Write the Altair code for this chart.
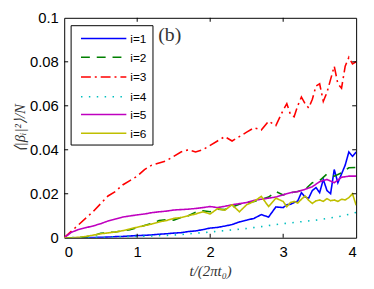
import altair as alt
import pandas as pd

# ---------------- data ----------------
series_names = ["i=1", "i=2", "i=3", "i=4", "i=5", "i=6"]
series_colors = ["#0000ff", "#008000", "#ff0000", "#00bfbf", "#bf00bf", "#bfbf00"]
series_dashes = [[1, 0], [9, 7], [10, 4, 2, 4], [1.5, 6.5], [1, 0], [1, 0]]

t_coarse = [round(0.1 * k, 2) for k in range(41)]
t_fine = [round(0.1 * k, 2) for k in range(30)] + [round(3.0 + 0.05 * k, 2) for k in range(21)]
t_cyan = [0.0, 0.5, 1.0, 1.5, 2.0, 2.5, 3.0, 3.5, 3.8, 4.0]

v1 = [0, 0, 0, 0, 0.0001, 0.0002, 0.0003, 0.0005, 0.0006, 0.0008,
      0.0010, 0.0011, 0.0013, 0.0016, 0.0018, 0.0021, 0.0023, 0.0028, 0.0031, 0.0037,
      0.0044, 0.0047, 0.0053, 0.0060, 0.0072, 0.0080, 0.0088, 0.0105, 0.0094, 0.0140,
      0.0137, 0.0150, 0.0152, 0.0160, 0.0167, 0.0205, 0.0185, 0.0180, 0.0215, 0.0228,
      0.0205, 0.0265, 0.0215, 0.0200, 0.0310, 0.0250, 0.0290, 0.0330, 0.0390, 0.0370, 0.0390]

v2 = [0, 0, 0.0001, 0.0004, 0.0010, 0.0020, 0.0024, 0.0026, 0.0032, 0.0036,
      0.0046, 0.0056, 0.0065, 0.0078, 0.0082, 0.0080, 0.0092, 0.0100, 0.0116, 0.0123,
      0.0118, 0.0130, 0.0128, 0.0140, 0.0152, 0.0160, 0.0165, 0.0175, 0.0185, 0.0210,
      0.0195, 0.0205, 0.0210, 0.0220, 0.0250, 0.0260, 0.0290, 0.0280, 0.0295, 0.0318, 0.0320]

v3 = [0, 0.003, 0.006, 0.009, 0.012, 0.0155, 0.019, 0.021, 0.024, 0.026,
      0.028, 0.031, 0.033, 0.034, 0.035, 0.037, 0.039, 0.040, 0.039, 0.040,
      0.042, 0.044, 0.046, 0.044, 0.046, 0.048, 0.050, 0.049, 0.053, 0.051,
      0.058, 0.061, 0.056, 0.055, 0.060, 0.064, 0.061, 0.059, 0.063, 0.069,
      0.070, 0.062, 0.066, 0.072, 0.078, 0.070, 0.068, 0.078, 0.082, 0.079, 0.080]

v4 = [0, 0.0002, 0.0006, 0.0012, 0.0026, 0.0042, 0.0064, 0.0082, 0.0098, 0.0115]

v5 = [0, 0.0025, 0.0038, 0.0046, 0.0054, 0.0064, 0.0076, 0.0085, 0.0094, 0.0099,
      0.0104, 0.0108, 0.0114, 0.0118, 0.0121, 0.0126, 0.0128, 0.0130, 0.0133, 0.0137,
      0.0142, 0.0137, 0.0143, 0.0150, 0.0155, 0.0160, 0.0170, 0.0175, 0.0180, 0.0185,
      0.0195, 0.0205, 0.0210, 0.0220, 0.0232, 0.0255, 0.0265, 0.0250, 0.0275, 0.0280, 0.0280]

v6 = [0, 0, 0.0002, 0.0006, 0.0012, 0.0018, 0.0022, 0.0026, 0.0032, 0.0040,
      0.0048, 0.0055, 0.0062, 0.0072, 0.0078, 0.0088, 0.0092, 0.0100, 0.0108, 0.0118,
      0.0108, 0.0132, 0.0125, 0.0150, 0.0118, 0.0150, 0.0165, 0.0188, 0.0142, 0.0180,
      0.0165, 0.0141, 0.0160, 0.0165, 0.0158, 0.0175, 0.0190, 0.0170, 0.0156, 0.0168,
      0.0172, 0.0165, 0.0178, 0.0168, 0.0172, 0.0165, 0.0175, 0.0172, 0.0182, 0.0200, 0.0148]

x_ticks = [0, 1, 2, 3, 4]
y_ticks = [0, 0.02, 0.04, 0.06, 0.08, 0.1]

# ---------------- build table ----------------
parts = [(t_fine, v1), (t_coarse, v2), (t_fine, v3), (t_cyan, v4), (t_coarse, v5), (t_fine, v6)]
rows = []
for name, (ts, vs) in zip(series_names, parts):
    for k, (t, v) in enumerate(zip(ts, vs)):
        rows.append({"t": t, "v": v, "series": name, "order": k})
df = pd.DataFrame(rows)

W, H = 296, 223
xscale = alt.Scale(domain=[0, 4], nice=False, zero=False)
yscale = alt.Scale(domain=[0, 0.1], nice=False, zero=False)

lines = alt.Chart(df).mark_line(strokeWidth=1.6, clip=True).encode(
    x=alt.X("t:Q", scale=xscale,
            axis=alt.Axis(values=x_ticks, format="d", title="t/(2πt₀)",
                          labelPadding=7, titlePadding=4)),
    y=alt.Y("v:Q", scale=yscale,
            axis=alt.Axis(values=y_ticks, format="~g", title="⟨|βᵢ|²⟩/N",
                          labelPadding=6, titlePadding=2)),
    color=alt.Color("series:N", scale=alt.Scale(domain=series_names, range=series_colors), legend=None),
    strokeDash=alt.StrokeDash("series:N", scale=alt.Scale(domain=series_names, range=series_dashes), legend=None),
    order=alt.Order("order:Q"),
)

xt = pd.DataFrame({"t": x_ticks[1:-1]})
yt = pd.DataFrame({"v": y_ticks[1:-1]})
tick_bottom = alt.Chart(xt).mark_rule(color="black").encode(
    x=alt.X("t:Q", scale=xscale), y=alt.value(H), y2=alt.value(H - 4))
tick_top = alt.Chart(xt).mark_rule(color="black").encode(
    x=alt.X("t:Q", scale=xscale), y=alt.value(0), y2=alt.value(4))
tick_left = alt.Chart(yt).mark_rule(color="black").encode(
    y=alt.Y("v:Q", scale=yscale), x=alt.value(0), x2=alt.value(4))
tick_right = alt.Chart(yt).mark_rule(color="black").encode(
    y=alt.Y("v:Q", scale=yscale), x=alt.value(W), x2=alt.value(W - 4))

one = pd.DataFrame({"a": [0]})
legend_box = alt.Chart(one).mark_rect(fill="white", stroke="black", strokeWidth=1).encode(
    x=alt.value(7), x2=alt.value(90), y=alt.value(8), y2=alt.value(129))

legend_layers = []
row_y = [21, 40, 60, 80, 98, 117]
for name, col, dash, yy in zip(series_names, series_colors, series_dashes, row_y):
    ld = pd.DataFrame({"series": [name]})
    legend_layers.append(
        alt.Chart(ld).mark_rule(strokeWidth=1.6, strokeDash=dash, color=col).encode(
            x=alt.value(17), x2=alt.value(63), y=alt.value(yy)))
    legend_layers.append(
        alt.Chart(ld).mark_text(align="left", baseline="middle", font="Liberation Sans",
                                fontSize=12, color="black").encode(
            x=alt.value(67), y=alt.value(yy + 0.5), text="series:N"))

label_b = alt.Chart(one).mark_text(font="Liberation Serif", fontSize=20, color="#333333",
                                   align="center", baseline="middle").encode(
    x=alt.value(107), y=alt.value(18), text=alt.value("(b)"))

chart = alt.layer(
    lines, tick_bottom, tick_top, tick_left, tick_right, legend_box, *legend_layers, label_b
).properties(
    width=W, height=H,
    autosize=alt.AutoSizeParams(type="none"),
    padding={"left": 57, "top": 8, "right": 10, "bottom": 48},
).configure_view(
    stroke="black", strokeWidth=1
).configure_axis(
    grid=False, ticks=False, domain=False,
    labelFont="Liberation Sans", labelFontSize=15, labelColor="black",
    titleFont="Liberation Serif", titleFontStyle="italic", titleFontWeight="normal",
    titleFontSize=15, titleColor="#333333",
)

chart.save("out.html", embed_options={"renderer": "svg", "actions": False})
